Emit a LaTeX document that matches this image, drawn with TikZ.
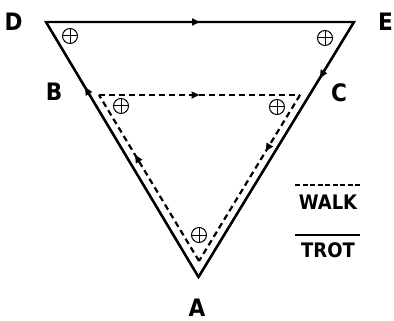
\documentclass[tikz,border=0pt]{standalone}
\usepackage{fontspec}
\setmainfont{DejaVu Sans Condensed}
\usetikzlibrary{decorations.markings,arrows.meta,calc}
\tikzset{
  solidline/.style={line width=2.3pt,line join=miter},
  dashline/.style={line width=2.2pt,dash pattern=on 6pt off 4pt},
  midarrow/.style={postaction={decorate},decoration={markings,mark=at position #1 with {\arrow{Triangle[length=8pt,width=7pt]}}}},
  lbl/.style={font=\bfseries\fontsize{24}{24}\selectfont,inner sep=0pt},
  gait/.style={font=\bfseries\fontsize{20}{20}\selectfont,inner sep=0pt},
  plus/.style={line width=1pt}
}
\newcommand{\crossmark}[1]{%
  \draw[plus] (#1) circle (7.5pt);
  \draw[plus] ($(#1)+(-7.5pt,0)$) -- ($(#1)+(7.5pt,0)$);
  \draw[plus] ($(#1)+(0,-7.5pt)$) -- ($(#1)+(0,7.5pt)$);
}
\begin{document}
\begin{tikzpicture}[x=1pt,y=-1pt]
\useasboundingbox (0,0) rectangle (394,321);
% outer (trot) triangle
\coordinate (D) at (46,22);
\coordinate (E) at (354,22);
\coordinate (A) at (198.5,277);
% inner (walk) triangle
\coordinate (B1) at (99,95);
\coordinate (C1) at (300,95);
\coordinate (A1) at (199,261);
\draw[solidline,midarrow=0.5] (D) -- (E);
\draw[solidline,midarrow=0.22] (E) -- (A);
\draw[solidline,midarrow=0.745] (A) -- (D);
\draw[solidline] (D) -- (E) -- (A) -- cycle;
\draw[dashline,midarrow=0.5] (B1) -- (C1);
\draw[dashline,midarrow=0.34] (C1) -- (A1);
\draw[dashline,midarrow=0.64] (A1) -- (B1);
% markers
\coordinate (m1) at (70,36);
\coordinate (m2) at (325,38);
\coordinate (m3) at (121,106);
\coordinate (m4) at (277,107);
\coordinate (m5) at (199,235);
\crossmark{m1}\crossmark{m2}\crossmark{m3}\crossmark{m4}\crossmark{m5}
% labels
\node[lbl] (lD) at (13.5,21.5) {D};
\node[lbl] (lE) at (385.5,22) {E};
\node[lbl] (lB) at (54,92) {B};
\node[lbl] (lC) at (339,93) {C};
\node[lbl] (lA) at (197,308) {A};
% legend
\node[gait] (walk) at (328,202) {WALK};
\node[gait] (trot) at (328,250) {TROT};
\draw[line width=1.8pt,dash pattern=on 5pt off 2.5pt] (295,185) -- (360,185);
\draw[line width=1.8pt] (295,235) -- (360,235);
\end{tikzpicture}
\end{document}
